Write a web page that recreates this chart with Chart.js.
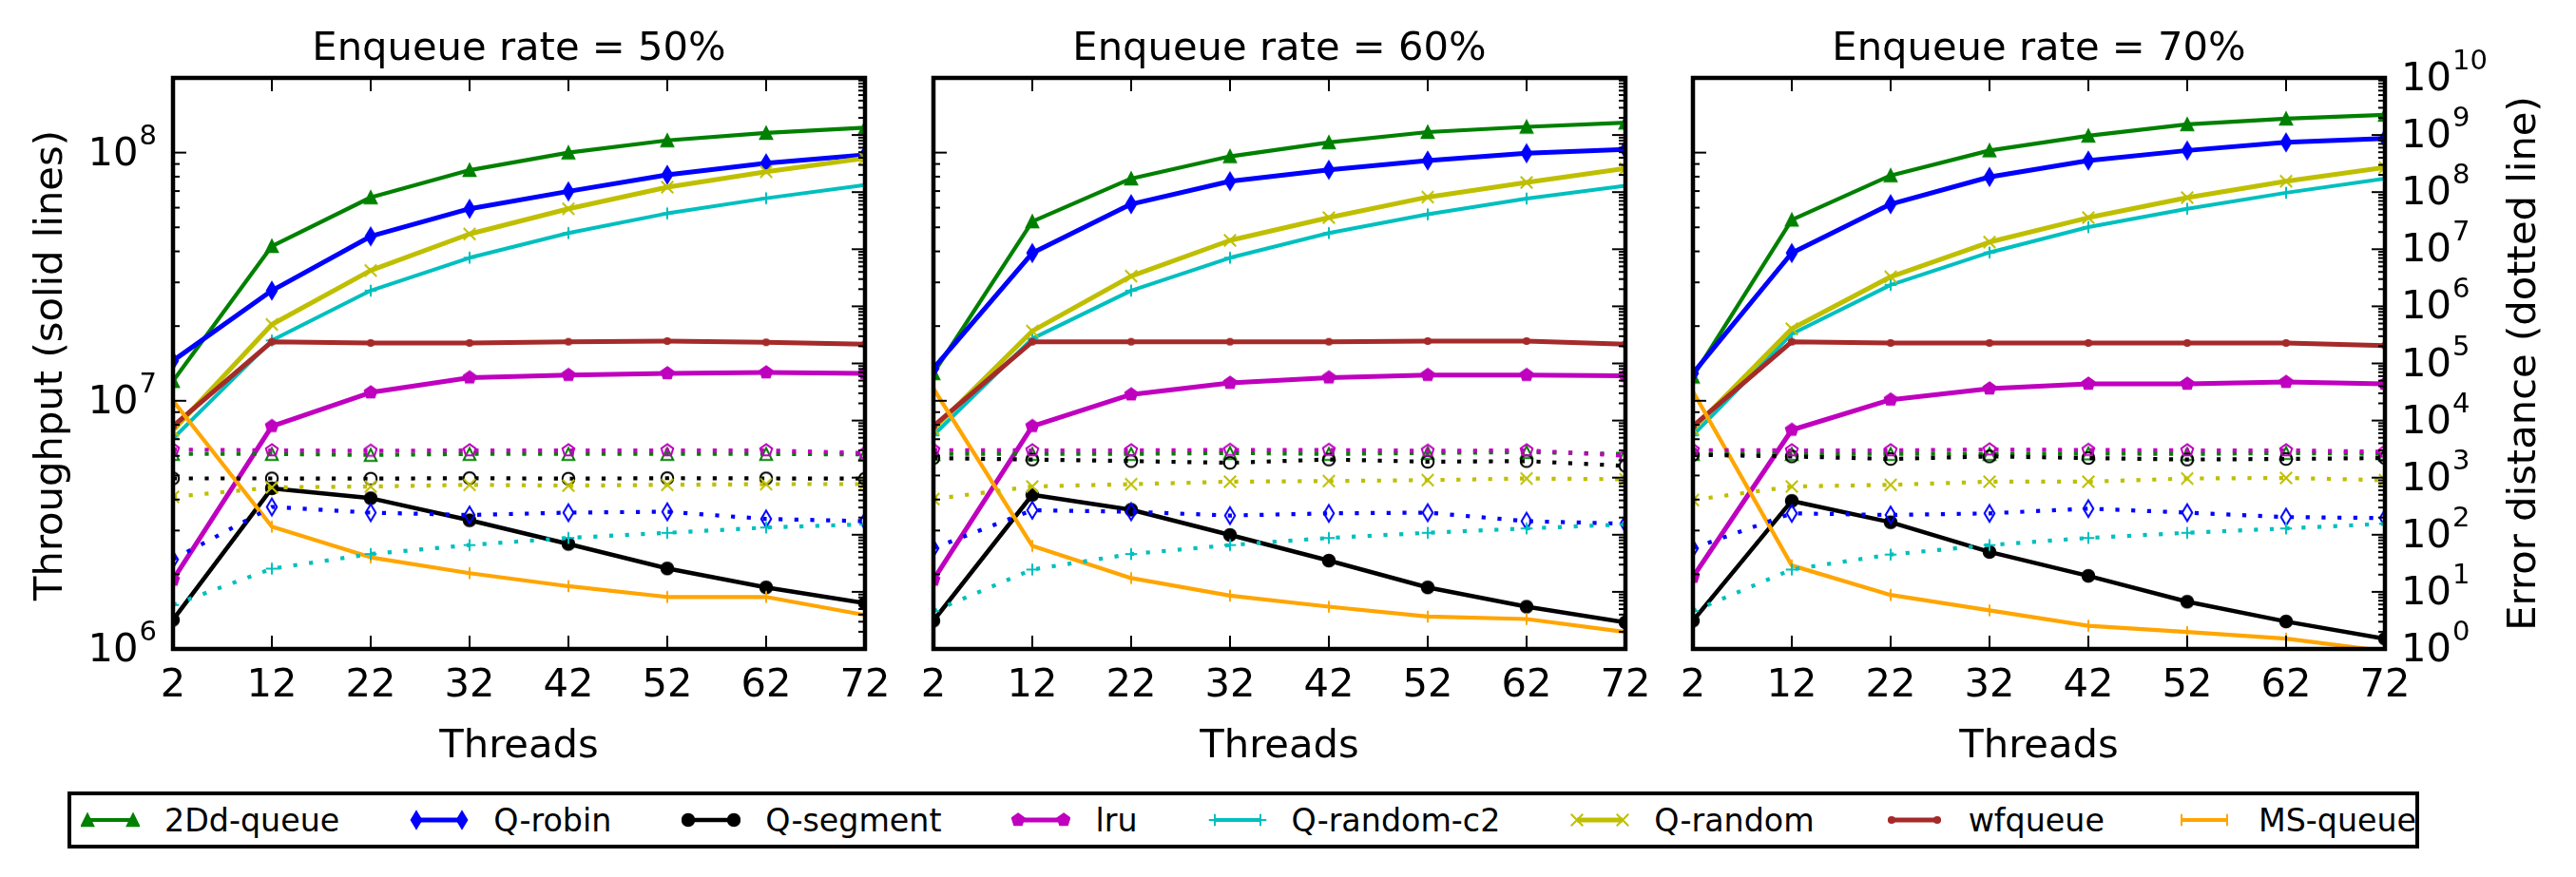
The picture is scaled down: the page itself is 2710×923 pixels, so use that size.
<!DOCTYPE html>
<html>
<head>
<meta charset="utf-8">
<title>Throughput and error distance vs threads</title>
<script src="https://cdn.jsdelivr.net/npm/chart.js"></script>
<style>
  html, body { margin: 0; padding: 0; background: #fff; }
  #page { position: relative; width: 2710px; height: 923px; overflow: hidden; background: #fff; }
  canvas.panel { position: absolute; top: 0; }
  #legend {
    position: absolute; left: 71px; top: 833px; width: 2474px; height: 60px;
    box-sizing: border-box; border: 4px solid #000; background: #fff;
    display: flex; align-items: center; padding-left: 10px;
    font-family: 'DejaVu Sans', sans-serif; font-size: 33.3px; color: #000; white-space: nowrap;
  }
  #legend .item { display: flex; align-items: center; margin-right: 74px; }
  #legend .item:last-child { margin-right: 0; }
  #legend canvas { margin-right: 26px; }
</style>
</head>
<body>
<div id="page">
  <canvas id="c50" class="panel"></canvas>
  <canvas id="c60" class="panel"></canvas>
  <canvas id="c70" class="panel"></canvas>
  <div id="legend"></div>
</div>
<script>
// ---- data ----
const threads = [2, 12, 22, 32, 42, 52, 62, 72];
const seriesNames = ['2Dd-queue', 'Q-robin', 'Q-segment', 'lru', 'Q-random-c2', 'Q-random', 'wfqueue', 'MS-queue'];
const panelTitles = ['Enqueue rate = 50%', 'Enqueue rate = 60%', 'Enqueue rate = 70%'];
const threadTicks = [2, 12, 22, 32, 42, 52, 62, 72];
const tputDecades = [6, 7, 8];
const errDecades = [0, 1, 2, 3, 4, 5, 6, 7, 8, 9, 10];

// throughput (solid lines), one row per series in seriesNames order
const tput50 = [
  [12.0e6, 42e6, 66e6, 85e6, 100e6, 112e6, 120e6, 126e6],
  [14.5e6, 27.8e6, 46e6, 59.4e6, 69.8e6, 81.4e6, 90.6e6, 98e6],
  [1.31e6, 4.44e6, 4.05e6, 3.3e6, 2.65e6, 2.11e6, 1.77e6, 1.53e6],
  [1.9e6, 7.9e6, 10.8e6, 12.4e6, 12.7e6, 12.9e6, 13.0e6, 12.9e6],
  [7.05e6, 17.5e6, 27.8e6, 37.7e6, 47.4e6, 56.9e6, 65.5e6, 74.1e6],
  [7.6e6, 20.3e6, 33.5e6, 47e6, 59.4e6, 72.6e6, 83.8e6, 95e6],
  [7.9e6, 17.3e6, 17.1e6, 17.1e6, 17.3e6, 17.4e6, 17.2e6, 16.9e6],
  [10.0e6, 3.11e6, 2.34e6, 2.02e6, 1.79e6, 1.62e6, 1.62e6, 1.37e6]
];
const tput60 = [
  [12.9e6, 52.8e6, 78.6e6, 96.6e6, 110e6, 121e6, 127e6, 132e6],
  [13.5e6, 39.4e6, 62e6, 76.7e6, 85.3e6, 92.9e6, 99.4e6, 103e6],
  [1.3e6, 4.18e6, 3.64e6, 2.88e6, 2.27e6, 1.77e6, 1.48e6, 1.28e6],
  [1.9e6, 7.9e6, 10.6e6, 11.8e6, 12.4e6, 12.7e6, 12.7e6, 12.6e6],
  [7.26e6, 17.8e6, 27.8e6, 37.7e6, 47.4e6, 56.4e6, 65.3e6, 73.5e6],
  [7.7e6, 19.1e6, 31.8e6, 44.3e6, 54.7e6, 66.2e6, 75.8e6, 86.3e6],
  [7.9e6, 17.3e6, 17.3e6, 17.3e6, 17.3e6, 17.4e6, 17.4e6, 16.9e6],
  [11.2e6, 2.6e6, 1.93e6, 1.64e6, 1.48e6, 1.35e6, 1.32e6, 1.17e6]
];
const tput70 = [
  [12.5e6, 53.6e6, 80.9e6, 102e6, 117e6, 130e6, 137e6, 142e6],
  [12.9e6, 39.4e6, 62e6, 79.8e6, 92.9e6, 102e6, 110e6, 114e6],
  [1.3e6, 3.95e6, 3.24e6, 2.46e6, 1.97e6, 1.55e6, 1.29e6, 1.10e6],
  [1.95e6, 7.63e6, 10.1e6, 11.2e6, 11.7e6, 11.7e6, 11.9e6, 11.7e6],
  [7.26e6, 18.6e6, 29.3e6, 39.6e6, 50.1e6, 59.4e6, 68.9e6, 78.6e6],
  [7.7e6, 19.5e6, 31.6e6, 43.6e6, 54.7e6, 65.9e6, 76.7e6, 87.1e6],
  [7.9e6, 17.3e6, 17.1e6, 17.1e6, 17.1e6, 17.1e6, 17.1e6, 16.7e6],
  [10.9e6, 2.17e6, 1.65e6, 1.43e6, 1.24e6, 1.17e6, 1.10e6, 0.98e6]
];

// error distance (dotted lines); errSeries maps each row to a series index
const errSeries = [0, 1, 2, 3, 4, 5];
const err50 = [
  [2600, 2600, 2500, 2600, 2600, 2600, 2600, 2550],
  [37, 307, 244, 222, 244, 253, 189, 173],
  [970, 970, 960, 980, 960, 980, 970, 960],
  [3100, 3000, 2950, 3000, 3000, 3000, 3000, 2700],
  [5.9, 25.5, 46, 66, 88, 108, 134, 152],
  [460, 675, 700, 748, 725, 748, 770, 770]
];
const err60 = [
  [2600, 2600, 2600, 2700, 2600, 2700, 2800, 2600],
  [58, 269, 253, 217, 237, 244, 173, 156],
  [2200, 2080, 1950, 1820, 2080, 1900, 1950, 1610],
  [3040, 3000, 3000, 3050, 3050, 2950, 3000, 2420],
  [4.6, 24.6, 46, 66, 88, 108, 129, 152],
  [422, 700, 768, 850, 872, 905, 967, 936]
];
const err70 = [
  [2600, 2600, 2600, 2600, 2650, 2600, 2700, 2600],
  [58, 237, 222, 237, 287, 244, 204, 196],
  [2510, 2355, 2125, 2355, 2207, 2080, 2125, 2207],
  [3040, 3000, 3000, 3100, 3050, 3000, 3000, 2850],
  [4.6, 24.6, 45, 66, 88, 108, 129, 156],
  [405, 700, 748, 850, 850, 967, 988, 905]
];

// ---- styles ----
const colors = ['#008000', '#0000ff', '#000000', '#bf00bf', '#00bfbf', '#bfbf00', '#a52a2a', '#ffa500'];
const shapes = ['triangle', 'thinDiamond', 'circle', 'pentagon', 'plus', 'cross', 'dot', 'vline'];
const lineWidths = [4.2, 5, 4.5, 5, 4, 5, 5, 4.2];
const BASE_FONT = '41.7px "DejaVu Sans"';
const EXP_FONT = '29px "DejaVu Sans"';

function makeMarker(shape, color, filled) {
  const c = document.createElement('canvas');
  c.width = 26; c.height = 26;
  const g = c.getContext('2d');
  g.translate(13, 13);
  g.strokeStyle = color;
  g.fillStyle = color;
  g.lineWidth = 2;
  g.lineJoin = 'miter';
  const s = 6.25;
  let fill = filled;
  g.beginPath();
  switch (shape) {
    case 'triangle':
      g.moveTo(0, -s); g.lineTo(s, s); g.lineTo(-s, s); g.closePath();
      break;
    case 'thinDiamond':
      g.moveTo(0, -8.8); g.lineTo(5.3, 0); g.lineTo(0, 8.8); g.lineTo(-5.3, 0); g.closePath();
      break;
    case 'circle':
      g.arc(0, 0, s, 0, Math.PI * 2);
      break;
    case 'pentagon':
      for (let k = 0; k < 5; k++) {
        const a = (-90 + 72 * k) * Math.PI / 180;
        const px = Math.cos(a) * 6.6, py = Math.sin(a) * 6.6;
        if (k === 0) g.moveTo(px, py); else g.lineTo(px, py);
      }
      g.closePath();
      break;
    case 'plus':
      g.moveTo(-s, 0); g.lineTo(s, 0); g.moveTo(0, -s); g.lineTo(0, s);
      fill = false;
      break;
    case 'cross':
      g.moveTo(-s, -s); g.lineTo(s, s); g.moveTo(-s, s); g.lineTo(s, -s);
      fill = false;
      break;
    case 'dot':
      g.arc(0, 0, 3.1, 0, Math.PI * 2);
      break;
    case 'vline':
      g.moveTo(0, -s); g.lineTo(0, s);
      fill = false;
      break;
  }
  if (fill) g.fill();
  g.stroke();
  return c;
}

const solidMarkers = shapes.map((sh, i) => makeMarker(sh, colors[i], true));
const openMarkers = shapes.map((sh, i) => makeMarker(sh, colors[i], false));

function drawPow(ctx, exp, x, y, align) {
  ctx.textAlign = 'left';
  ctx.font = BASE_FONT;
  const wb = ctx.measureText('10').width;
  ctx.font = EXP_FONT;
  const we = ctx.measureText(String(exp)).width;
  const x0 = align === 'right' ? x - wb - we - 1 : x;
  ctx.font = BASE_FONT;
  ctx.fillText('10', x0, y + 13);
  ctx.font = EXP_FONT;
  ctx.fillText(String(exp), x0 + wb + 1, y + 13 - 22);
}

// frame, inward ticks and all texts of one panel
const panelFrame = {
  id: 'panelFrame',
  afterDatasetsDraw(chart, args, opts) {
    const ctx = chart.ctx;
    const { left, right, top, bottom } = chart.chartArea;
    const xs = chart.scales.x, ys = chart.scales.y, ys2 = chart.scales.y2;
    const seg = (x1, y1, x2, y2) => { ctx.beginPath(); ctx.moveTo(x1, y1); ctx.lineTo(x2, y2); ctx.stroke(); };
    ctx.save();
    ctx.strokeStyle = '#000';
    ctx.fillStyle = '#000';
    ctx.lineWidth = 2;
    threadTicks.forEach(t => {
      const px = xs.getPixelForValue(t);
      seg(px, top, px, top + 14);
      seg(px, bottom, px, bottom - 14);
    });
    const logTicks = (scale, decades, x0, dir) => {
      decades.forEach(d => {
        for (let m = 1; m < 10; m++) {
          const v = m * Math.pow(10, d);
          if (v < scale.min * 0.999 || v > scale.max * 1.001) continue;
          const py = scale.getPixelForValue(v);
          seg(x0, py, x0 + dir * (m === 1 ? 14 : 7), py);
        }
      });
    };
    logTicks(ys, tputDecades, left, 1);
    logTicks(ys2, errDecades, right, -1);
    ctx.lineWidth = 4.5;
    ctx.strokeRect(left, top, right - left, bottom - top);

    ctx.font = BASE_FONT;
    ctx.textAlign = 'center';
    ctx.textBaseline = 'alphabetic';
    ctx.fillText(opts.title, (left + right) / 2, top - 19);
    threadTicks.forEach(t => ctx.fillText(String(t), xs.getPixelForValue(t), bottom + 50));
    ctx.fillText('Threads', (left + right) / 2, bottom + 114);

    if (opts.leftAxis) {
      tputDecades.forEach(d => drawPow(ctx, d, left - 17, ys.getPixelForValue(Math.pow(10, d)), 'right'));
      ctx.save();
      ctx.font = BASE_FONT;
      ctx.textAlign = 'center';
      ctx.translate(left - 117.4, (top + bottom) / 2 + 2);
      ctx.rotate(-Math.PI / 2);
      ctx.fillText('Throughput (solid lines)', 0, 0);
      ctx.restore();
    }
    if (opts.rightAxis) {
      errDecades.forEach(d => drawPow(ctx, d, right + 17, ys2.getPixelForValue(Math.pow(10, d)), 'left'));
      ctx.save();
      ctx.font = BASE_FONT;
      ctx.textAlign = 'center';
      ctx.translate(right + 158, (top + bottom) / 2);
      ctx.rotate(-Math.PI / 2);
      ctx.fillText('Error distance (dotted line)', 0, 0);
      ctx.restore();
    }
    ctx.restore();
  }
};

function panelDatasets(tput, err) {
  const ds = [];
  seriesNames.forEach((name, i) => {
    ds.push({
      label: name,
      data: threads.map((t, k) => ({ x: t, y: tput[i][k] })),
      yAxisID: 'y',
      borderColor: colors[i],
      backgroundColor: colors[i],
      borderWidth: lineWidths[i],
      borderJoinStyle: 'round',
      pointStyle: solidMarkers[i],
      pointRadius: 7,
      order: 100 - i,
      clip: 0
    });
  });
  errSeries.forEach((idx, j) => {
    ds.push({
      label: seriesNames[idx] + ' error',
      data: threads.map((t, k) => ({ x: t, y: err[j][k] })),
      yAxisID: 'y2',
      borderColor: colors[idx],
      backgroundColor: colors[idx],
      borderWidth: 4.2,
      borderDash: [4.2, 12.5],
      borderCapStyle: 'butt',
      pointStyle: openMarkers[idx],
      pointRadius: 7,
      order: 50 - j,
      clip: 0
    });
  });
  return ds;
}

const panelLefts = [182, 982, 1781];
const panelWidth = 728;
const padLeft = 180, padRight = 200;
const panels = [
  { id: 'c50', tput: tput50, err: err50 },
  { id: 'c60', tput: tput60, err: err60 },
  { id: 'c70', tput: tput70, err: err70 }
];

panels.forEach((p, i) => {
  const canvas = document.getElementById(p.id);
  canvas.width = padLeft + panelWidth + padRight;
  canvas.height = 923;
  canvas.style.left = (panelLefts[i] - padLeft) + 'px';
  new Chart(canvas, {
    type: 'line',
    data: { datasets: panelDatasets(p.tput, p.err) },
    options: {
      responsive: false,
      animation: false,
      devicePixelRatio: 1,
      events: [],
      layout: { padding: { left: padLeft, right: padRight, top: 82, bottom: 240 } },
      elements: { line: { tension: 0, fill: false } },
      plugins: {
        legend: { display: false },
        tooltip: { enabled: false },
        panelFrame: { title: panelTitles[i], leftAxis: i === 0, rightAxis: i === 2 }
      },
      scales: {
        x: { type: 'linear', min: 2, max: 72, display: false, bounds: 'data' },
        y: { type: 'logarithmic', min: 1e6, max: 2e8, display: false, bounds: 'data' },
        y2: { type: 'logarithmic', min: 1, max: 1e10, display: false, position: 'right', bounds: 'data' }
      }
    },
    plugins: [panelFrame]
  });
});

// legend across the bottom
const legend = document.getElementById('legend');
seriesNames.forEach((name, i) => {
  const item = document.createElement('div');
  item.className = 'item';
  const c = document.createElement('canvas');
  c.width = 62; c.height = 26;
  const g = c.getContext('2d');
  g.strokeStyle = colors[i];
  g.lineWidth = lineWidths[i];
  g.beginPath(); g.moveTo(7, 13); g.lineTo(55, 13); g.stroke();
  const m = solidMarkers[i];
  g.drawImage(m, 7 - m.width / 2, 13 - m.height / 2);
  g.drawImage(m, 55 - m.width / 2, 13 - m.height / 2);
  const label = document.createElement('span');
  label.textContent = name;
  item.appendChild(c);
  item.appendChild(label);
  legend.appendChild(item);
});
</script>
</body>
</html>
